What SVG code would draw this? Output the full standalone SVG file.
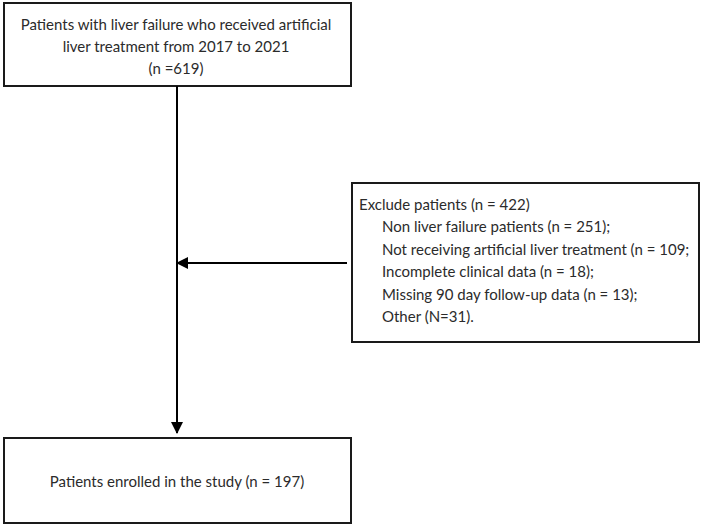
<svg xmlns="http://www.w3.org/2000/svg" width="702" height="525" viewBox="0 0 702 525">
<style>
.box{fill:#fff;stroke:#1a1a1a;stroke-width:2}
.t{font-family:Lato,"Noto Sans",sans-serif;font-size:15px;fill:#2b2b2b}
.c{text-anchor:middle}
.ln{stroke:#000;stroke-width:2;fill:none}
</style>
<defs>
<marker id="ah" markerWidth="12" markerHeight="12" refX="11" refY="6" orient="auto" markerUnits="userSpaceOnUse">
<path d="M0,0 L12,6 L0,12 Z" fill="#000"/>
</marker>
</defs>
<rect width="702" height="525" fill="#fff"/>
<g id="top">
<rect class="box" x="4" y="3" width="347" height="83"/>
<text class="t c" x="176" y="30">Patients with liver failure who received artificial</text>
<text class="t c" x="176" y="52">liver treatment from 2017 to 2021</text>
<text class="t c" x="176" y="74">(n =619)</text>
</g>
<g id="exclude">
<rect class="box" x="352" y="183" width="347" height="159"/>
<text class="t" x="359" y="210">Exclude patients (n = 422)</text>
<text class="t" x="382" y="232">Non liver failure patients (n = 251);</text>
<text class="t" x="382" y="255">Not receiving artificial liver treatment (n = 109;</text>
<text class="t" x="382" y="277">Incomplete clinical data (n = 18);</text>
<text class="t" x="382" y="300">Missing 90 day follow-up data (n = 13);</text>
<text class="t" x="382" y="322">Other (N=31).</text>
</g>
<g id="enrolled">
<rect class="box" x="4" y="438" width="347" height="85"/>
<text class="t c" x="177" y="487">Patients enrolled in the study (n = 197)</text>
</g>
<g id="connectors">
<line class="ln" x1="177" y1="86" x2="177" y2="433" marker-end="url(#ah)"/>
<line class="ln" x1="347" y1="263" x2="177" y2="263" marker-end="url(#ah)"/>
</g>
</svg>
